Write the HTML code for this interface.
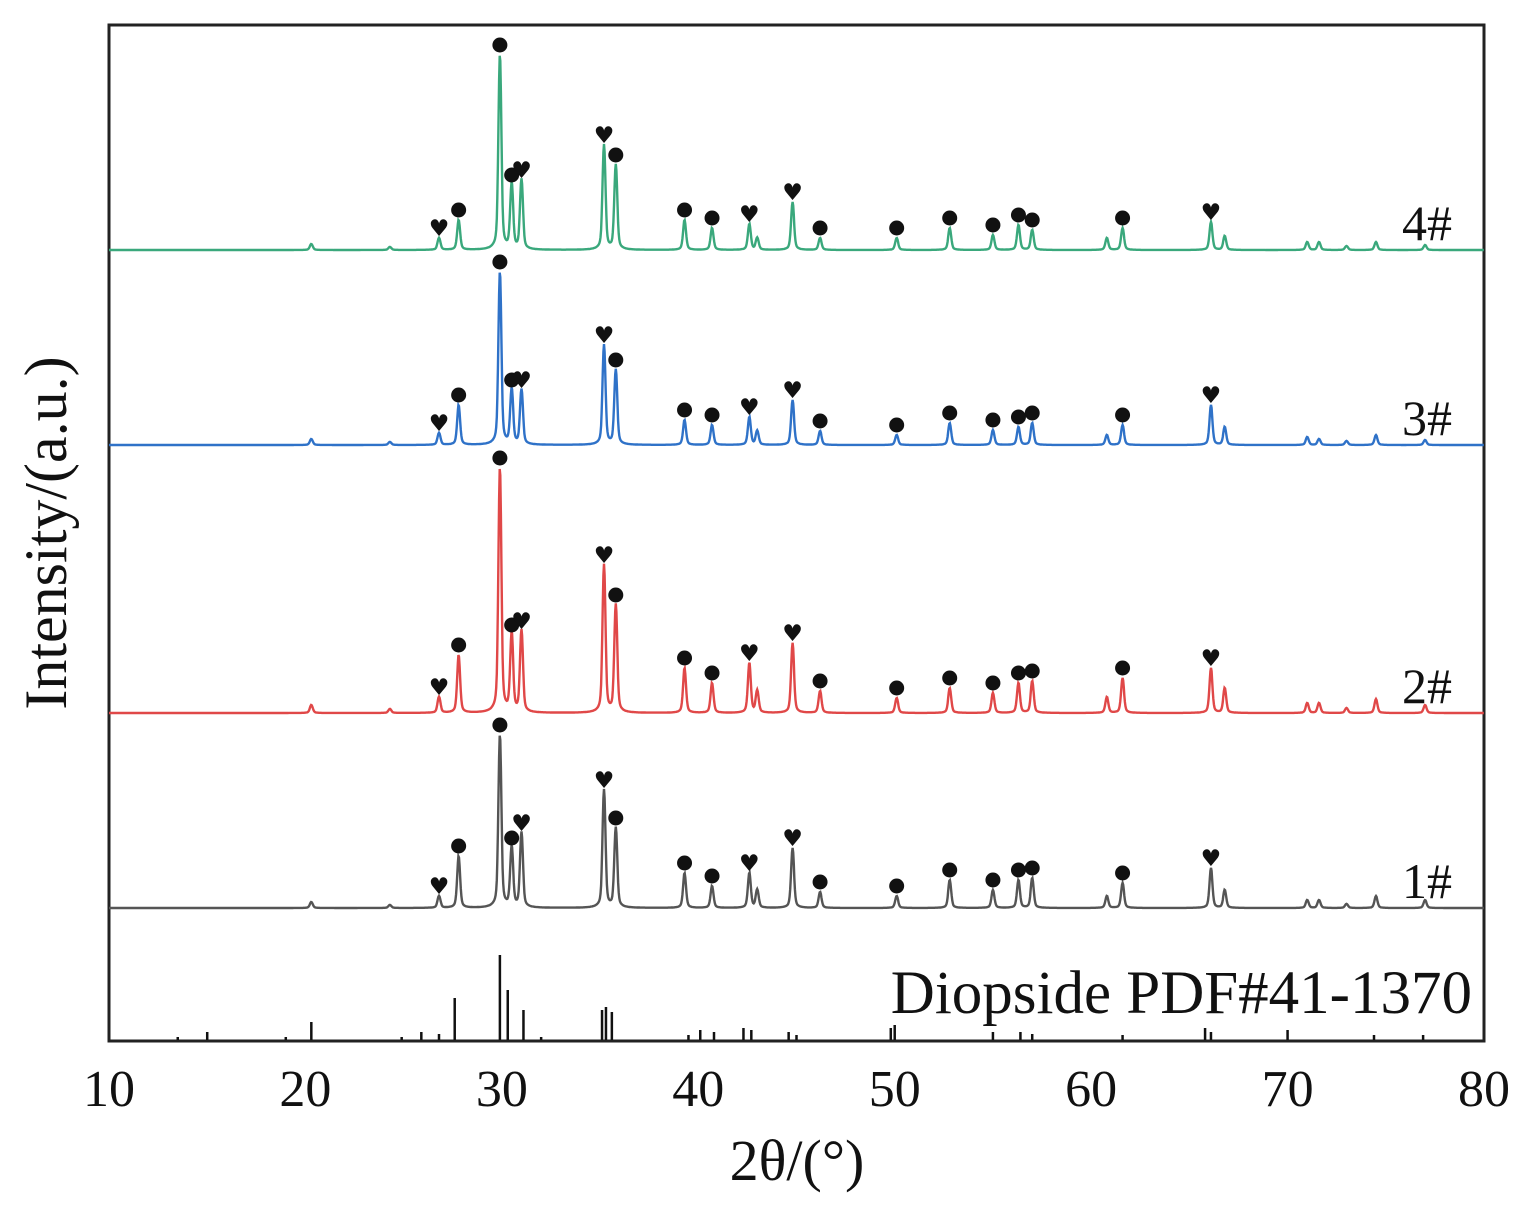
<!DOCTYPE html>
<html><head><meta charset="utf-8">
<style>
html,body{margin:0;padding:0;background:#fff;}
svg{display:block;}
text{font-family:"Liberation Serif",serif;fill:#111;}
</style></head>
<body>
<svg id="chart" width="1517" height="1212" viewBox="0 0 1517 1212" xmlns="http://www.w3.org/2000/svg">
<rect x="109" y="25" width="1375" height="1016" fill="none" stroke="#222" stroke-width="3"/>
<g id="series"></g>
<g id="sticks"></g>
<g id="markers"></g>
<g id="labels"></g>
<text x="797" y="1180" font-size="58" text-anchor="middle">2θ/(°)</text>
<text transform="translate(66,533) rotate(-90)" font-size="60" text-anchor="middle">Intensity/(a.u.)</text>
<text x="1472" y="1013" font-size="61" text-anchor="end">Diopside PDF#41-1370</text>
</svg>
<script>
const xTicks=[10,20,30,40,50,60,70,80];
const seriesNames=["1#","2#","3#","4#"];
const seriesColors=["#555555","#e04848","#2f72c8","#3aa87c"];
const baselines=[908,713,445,250];
// peak positions (2θ) and marker type (c=diopside circle, h=heart)
const peakPos=[20.3,24.3,26.8,27.8,29.9,30.5,31.0,35.2,35.8,39.3,40.7,42.6,43.0,44.8,46.2,50.1,52.8,55.0,56.3,57.0,60.8,61.6,66.1,66.8,71.0,71.6,73.0,74.5,77.0];
const peakMark=["","","h","c","c","c","h","h","c","c","c","h","","h","c","c","c","c","c","c","","c","h","","","","","",""];
// peak heights (pixels of intensity above baseline) per series
const h1=[6,3,12,52,173,60,75,118,80,35,22,35,18,60,16,12,28,18,28,30,12,25,40,18,8,8,4,12,8];
const h2=[8,4,16,58,245,78,82,148,108,45,30,50,22,70,22,15,25,20,30,32,16,35,45,25,10,10,5,14,8];
const h3=[6,3,12,40,173,55,55,100,75,25,20,28,14,45,14,10,22,15,18,22,10,20,40,18,8,6,4,10,5];
const h4=[6,3,12,30,195,65,70,105,85,30,22,26,12,48,12,12,22,15,25,20,12,22,28,14,8,8,4,8,5];
const heights=[h1,h2,h3,h4];
// reference sticks
const stickPos=[13.5,15.0,19.0,20.3,24.9,25.9,26.8,27.6,29.9,30.3,31.1,32.0,35.1,35.3,35.6,39.5,40.1,40.8,42.3,42.7,44.6,45.0,49.8,50.0,55.0,56.4,57.0,61.6,65.8,66.1,70.0,74.4,76.9];
const stickH=[3,8,3,18,3,8,6,42,85,50,30,3,30,33,28,5,10,8,12,10,8,5,12,15,8,8,6,5,12,8,10,5,5];

const X0=109,X1=1484,stickBase=1040;
const xs=v=>X0+(v-10)/70*(X1-X0);
const NS="http://www.w3.org/2000/svg";
function mk(tag,attrs,parent){const e=document.createElementNS(NS,tag);for(const k in attrs)e.setAttribute(k,attrs[k]);parent.appendChild(e);return e;}
const gS=document.getElementById('series'),gK=document.getElementById('sticks'),gM=document.getElementById('markers'),gL=document.getElementById('labels');

heights.forEach((hs,si)=>{
  const b=baselines[si];let d="";
  for(let t=10;t<=80.001;t+=0.03){
    let y=0;
    peakPos.forEach((p,i)=>{const dx=(t-p)/0.1;y+=hs[i]*(0.75*Math.exp(-dx*dx)+0.25/(1+dx*dx*0.6));});
    d+=(d?"L":"M")+xs(t).toFixed(1)+","+(b-y).toFixed(1);
  }
  const path=mk('path',{d:d,fill:"none",stroke:seriesColors[si],"stroke-width":2.4},gS);
  
  
  peakPos.forEach((p,i)=>{
    if(!peakMark[i])return;
    const cx=xs(p),cy=b-hs[i]-10;
    let m;
    if(peakMark[i]==="c"){m=mk('circle',{cx:cx,cy:cy,r:7.5,fill:"#111"},gM);}
    else{m=mk('text',{x:cx,y:cy+8,"font-size":23,"text-anchor":"middle",style:"font-family:'DejaVu Sans',sans-serif"},gM);m.textContent="♥";}
    
    
  });
  const lab=mk('text',{x:1452,y:b-10,"font-size":50,"text-anchor":"end"},gL);
  lab.textContent=seriesNames[si];
  
  
});
stickPos.forEach((p,i)=>{
  const l=mk('line',{x1:xs(p),x2:xs(p),y1:stickBase,y2:stickBase-stickH[i],stroke:"#111","stroke-width":2.5},gK);
  
  
});
xTicks.forEach(v=>{
  const t=mk('text',{x:xs(v),y:1106,"font-size":52,"text-anchor":"middle"},gL);
  t.textContent=v;
  
  
});
</script>
</body></html>
